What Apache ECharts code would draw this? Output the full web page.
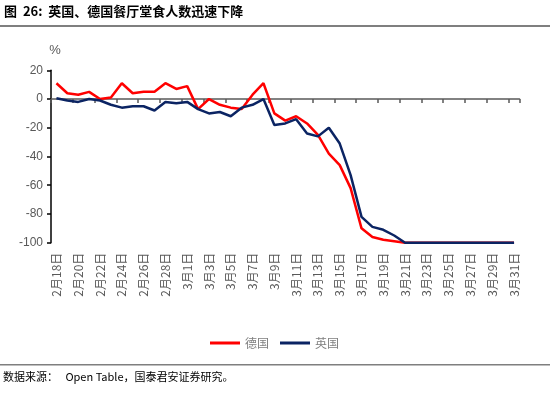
<!DOCTYPE html>
<html>
<head>
<meta charset="utf-8">
<script src="https://cdn.jsdelivr.net/npm/echarts@6/dist/echarts.min.js"></script>
<style>
html,body{margin:0;padding:0;background:#fff;}
#c{width:550px;height:393px;}
</style>
</head>
<body>
<div id="c"></div>
<script>
var categories = ['2月18日','2月19日','2月20日','2月21日','2月22日','2月23日','2月24日','2月25日','2月26日','2月27日','2月28日','2月29日',
  '3月1日','3月2日','3月3日','3月4日','3月5日','3月6日','3月7日','3月8日','3月9日','3月10日','3月11日','3月12日','3月13日','3月14日','3月15日','3月16日','3月17日','3月18日','3月19日','3月20日','3月21日','3月22日','3月23日','3月24日','3月25日','3月26日','3月27日','3月28日','3月29日','3月30日','3月31日'];
var germany = [11, 4, 3, 5, 0, 1, 11, 4, 5, 5, 11, 7, 9, -7, 0, -4, -6, -7, 3, 11, -10, -15, -12, -17, -25, -38, -46, -62, -90, -96, -98, -99, -100, -100, -100, -100, -100, -100, -100, -100, -100, -100, -100];
var uk = [0.5, -1, -2, 0, -1, -4, -6, -5, -5, -8, -2, -3, -2, -7, -10, -9, -12, -6, -4, 0, -18, -17, -14, -24, -26, -20, -31, -53, -82, -89, -91, -95, -100, -100, -100, -100, -100, -100, -100, -100, -100, -100, -100];
var yTicks = {min: -100, max: 20, interval: 20};
var seriesNames = ['德国', '英国'];

var chart = echarts.init(document.getElementById('c'), null, {renderer: 'canvas'});
var cjk = '"Noto Sans CJK SC", "Noto Sans", sans-serif';
chart.setOption({
  animation: false,
  backgroundColor: '#fff',
  graphic: [
    {type: 'text', left: 4, top: 5, style: {text: '图  26:  英国、德国餐厅堂食人数迅速下降', font: 'bold 13px ' + cjk, fill: '#000'}},
    {type: 'rect', shape: {x: 0, y: 25, width: 550, height: 2}, style: {fill: '#7f7f7f'}},
    {type: 'rect', shape: {x: 0, y: 364, width: 550, height: 1.5}, style: {fill: '#7f7f7f'}},
    {type: 'text', left: 3, top: 371, style: {text: '数据来源：   Open Table，国泰君安证券研究。', font: '11px ' + cjk, fill: '#000'}}
  ],
  legend: {
    left: 205, top: 332,
    icon: 'rect', itemWidth: 30, itemHeight: 3, itemGap: 11,
    textStyle: {color: '#7f7f7f', fontSize: 12, fontFamily: cjk},
    data: seriesNames
  },
  grid: {left: 51, right: 30.5, top: 70.3, bottom: 150.3, containLabel: false},
  xAxis: [
    {
      type: 'category', data: categories, boundaryGap: true, position: 'bottom',
      axisLine: {show: false, onZero: false}, axisTick: {show: false},
      axisLabel: {interval: 1, rotate: 90, margin: 10, color: '#595959', fontSize: 12, fontFamily: cjk}
    },
    {
      type: 'category', data: categories, boundaryGap: true, position: 'top',
      axisLine: {show: true, onZero: true, lineStyle: {color: '#595959', width: 1.5}},
      axisTick: {show: true, interval: 1, inside: true, length: 4, lineStyle: {color: '#595959', width: 1.5}},
      axisLabel: {show: false}
    }
  ],
  yAxis: {
    type: 'value', min: yTicks.min, max: yTicks.max, interval: yTicks.interval,
    name: '%', nameLocation: 'end', nameGap: 13,
    nameTextStyle: {color: '#595959', fontSize: 13, fontFamily: '"Liberation Sans", sans-serif', padding: [0, 0, 0, 8]},
    axisLine: {show: true, lineStyle: {color: '#000', width: 1.5}},
    axisTick: {show: true, length: 4, lineStyle: {color: '#000', width: 1.5}},
    axisLabel: {color: '#595959', fontSize: 12, margin: 8, fontFamily: '"Liberation Sans", sans-serif'},
    splitLine: {show: false}
  },
  series: [
    {name: seriesNames[0], type: 'line', data: germany, showSymbol: false, symbol: 'none', lineStyle: {color: '#ff0000', width: 2.5}, itemStyle: {color: '#ff0000'}, z: 3},
    {name: seriesNames[1], type: 'line', data: uk, showSymbol: false, symbol: 'none', lineStyle: {color: '#0b2463', width: 2.5}, itemStyle: {color: '#0b2463'}, z: 4}
  ]
});
</script>
</body>
</html>
